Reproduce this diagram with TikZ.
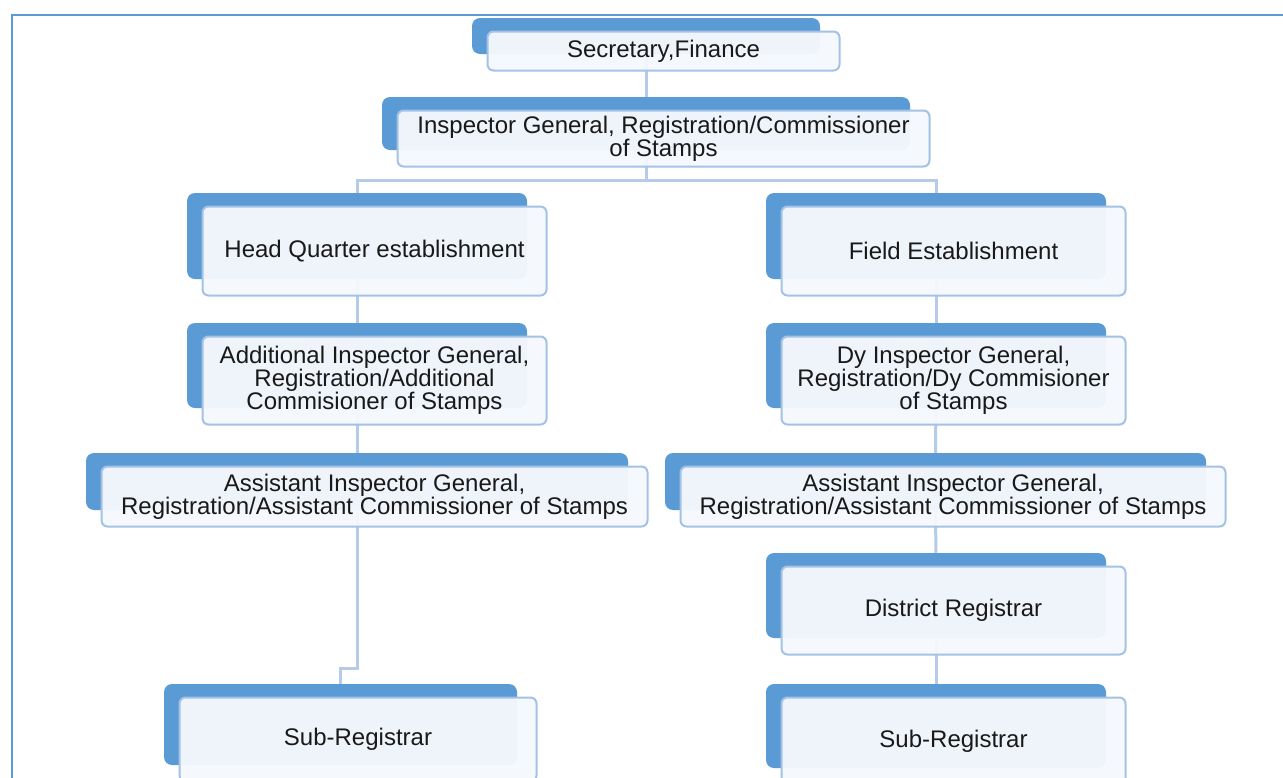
\documentclass[tikz,border=0pt]{standalone}
\usepackage{fontspec}
\setmainfont{Liberation Sans}
\pgfdeclarelayer{paper}
\pgfdeclarelayer{links}
\pgfsetlayers{paper,links,main}
\definecolor{tabblue}{HTML}{5B9BD5}
\definecolor{cardedge}{HTML}{A4C2E6}
\definecolor{cardfill}{HTML}{F5F8FC}
\definecolor{linkblue}{HTML}{B5CBE9}
\tikzset{
  backbox/.style={fill=tabblue, draw=none, rounded corners=4pt, inner sep=0pt},
  frontbox/.style={fill=cardfill, fill opacity=0.965, text opacity=1, draw=cardedge,
    line width=1pt, rounded corners=3pt, inner sep=0pt, align=center,
    font=\fontsize{12}{11.4}\selectfont, text=black!90},
  link/.style={draw=linkblue, line width=1.5pt},
  frame/.style={draw=tabblue, line width=1.2pt},
}
% name, tab centre x, tab centre y, tab width, tab height, label
\newcommand\orgcard[6]{%
  \node[backbox, minimum width={#4*0.5pt}, minimum height={#5*0.5pt}] (#1b) at (#2,#3) {};
  \node[frontbox, minimum width={(#4+4)*0.5pt}, minimum height={(#5+3)*0.5pt}] (#1) at ({#2+17.5},{#3+15}) {#6};
}
\begin{document}
\begin{tikzpicture}[x=0.5pt, y=-0.5pt]
\clip (0,0) rectangle (1283,777);
\useasboundingbox (0,0) rectangle (1283,777);
\begin{pgfonlayer}{paper}
  \fill[white] (0,0) rectangle (1283,777);
  \draw[frame] (12,790) -- (12,15) -- (1290,15);
\end{pgfonlayer}

\orgcard{sec}{646}{36}{348}{36}{Secretary,Finance}
\orgcard{igr}{646}{123.5}{528}{53}{Inspector General, Registration/Commissioner\\of Stamps}
\orgcard{hq}{357}{236}{340}{86}{Head Quarter establishment}
\orgcard{fld}{936}{236}{340}{86}{Field Establishment}
\orgcard{aig}{357}{365.5}{340}{85}{Additional Inspector General,\\Registration/Additional\\Commisioner of Stamps}
\orgcard{dig}{936}{365.5}{340}{85}{Dy Inspector General,\\Registration/Dy Commisioner\\of Stamps}
\orgcard{asl}{357}{481.5}{542}{57}{Assistant Inspector General,\\Registration/Assistant Commissioner of Stamps}
\orgcard{asr}{935.5}{481.5}{541}{57}{Assistant Inspector General,\\Registration/Assistant Commissioner of Stamps}
\orgcard{dst}{936}{595.5}{340}{85}{District Registrar}
\orgcard{srl}{340.5}{724.5}{353}{81}{Sub-Registrar}
\orgcard{srr}{936}{726}{340}{84}{Sub-Registrar}

\coordinate (bus) at (646,180);
\coordinate (jog) at (349,668);

\begin{pgfonlayer}{links}
  \draw[link] (secb.center) -- (igrb.center);
  \draw[link] (igrb.center) -- (bus);
  \draw[link] (hqb.center) |- (bus) -| (fldb.center);
  \draw[link] (hqb.center) -- (aigb.center);
  \draw[link] (aigb.center) -- (aslb.center);
  \draw[link] (aslb.center) |- (jog) -| (srlb.center);
  \draw[link] (fldb.center) -- (digb.center);
  \draw[link] (digb.center) -- (asrb.center);
  \draw[link] (asrb.center) -- (dstb.center);
  \draw[link] (dstb.center) -- (srrb.center);
\end{pgfonlayer}
\end{tikzpicture}
\end{document}
